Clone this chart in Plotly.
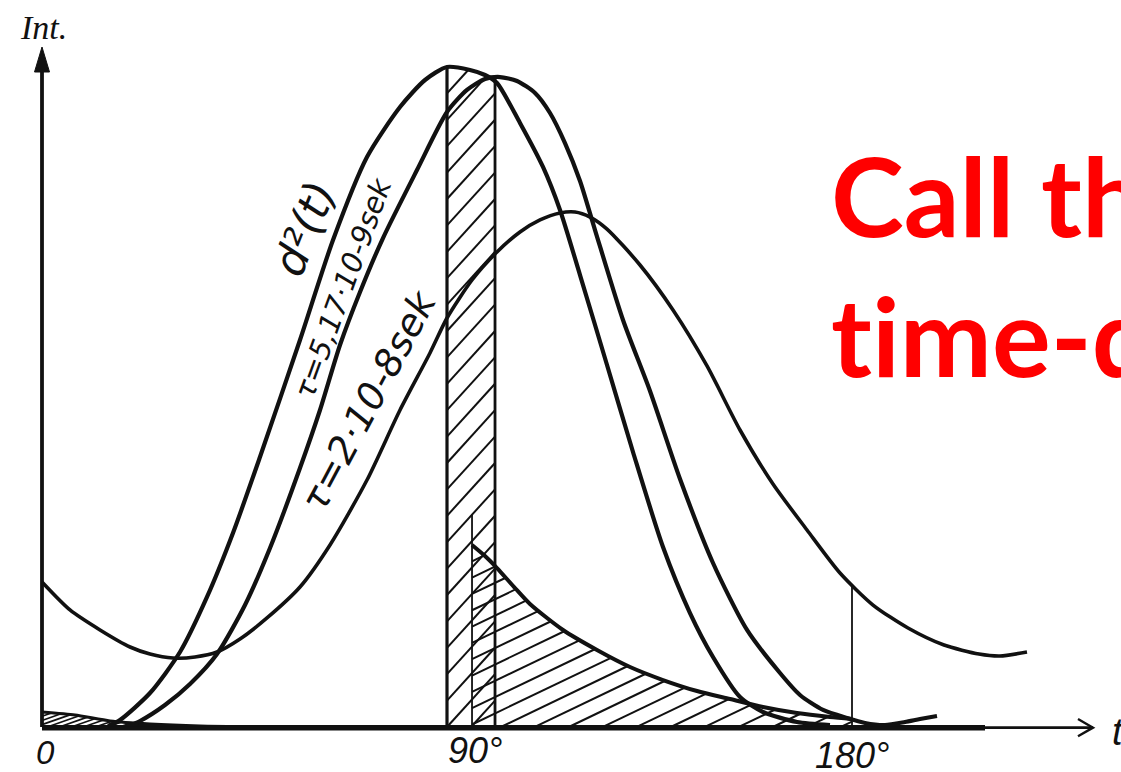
import numpy as np
import plotly.graph_objects as go

# ---- curve data: x in degrees of phase, y in relative intensity (peak of d^2 = 100) ----
d2_deg = [14.67, 17.33, 24.0, 30.67, 36.67, 42.44, 48.44, 57.33, 64.67, 72.22, 79.56, 85.11,
          90.0, 95.11, 98.44, 101.11, 106.22, 111.33, 115.11, 119.56, 125.56, 131.33, 138.0,
          144.0, 149.11, 155.11, 160.22, 167.78, 175.11]
d2_int = [0.15, 1.06, 5.15, 11.36, 19.70, 29.39, 40.91, 58.64, 73.79, 86.36, 93.94, 98.03,
          100.0, 99.55, 98.79, 97.58, 91.52, 84.85, 78.33, 68.48, 54.85, 41.67, 27.27,
          17.27, 10.61, 4.55, 2.27, 0.76, 0.30]

tau517_deg = [19.11, 21.78, 27.33, 32.89, 38.89, 45.11, 50.67, 57.33, 61.78, 66.22, 70.67,
              75.78, 83.33, 90.0, 94.44, 98.44, 101.78, 105.56, 109.56, 112.89, 116.22,
              119.56, 122.89, 129.11, 135.11, 141.78, 149.11, 156.67, 164.0, 168.44, 173.56,
              178.89, 182.89, 187.33, 191.78, 195.11, 198.89]
tau517_int = [0.15, 0.91, 3.33, 6.52, 11.06, 18.48, 27.12, 39.24, 48.03, 57.88, 65.91,
              74.09, 84.39, 93.18, 96.52, 98.18, 98.48, 97.88, 96.06, 93.03, 88.48,
              82.73, 75.30, 61.67, 50.91, 37.58, 24.85, 14.70, 8.18, 4.85, 2.58,
              1.36, 0.61, 0.30, 0.76, 1.21, 1.67]

tau2_deg = [0.0, 6.22, 12.89, 19.56, 24.0, 29.11, 34.0, 38.89, 44.0, 50.0, 57.33, 64.0, 72.22,
            79.56, 86.22, 90.0, 95.56, 101.11, 106.22, 110.67, 115.11, 118.44, 121.78, 125.56,
            132.89, 140.22, 147.78, 155.11, 162.44, 170.0, 177.33, 184.67, 192.44, 200.44,
            208.22, 212.89, 218.89]
tau2_int = [21.97, 17.73, 14.70, 12.12, 11.06, 10.45, 10.61, 11.36, 13.33, 16.52, 21.21, 27.58,
            37.42, 48.03, 56.67, 61.97, 67.73, 71.97, 75.0, 76.82, 77.88, 78.03, 77.27, 75.45,
            70.0, 63.18, 54.70, 45.0, 36.82, 29.85, 23.33, 18.48, 15.0, 12.42,
            11.06, 10.76, 11.36]

decay_deg = [95.56, 98.44, 101.11, 105.11, 108.44, 115.78, 123.33, 130.67, 138.0, 145.56,
             152.89, 160.22, 167.78, 175.11, 180.0]
decay_int = [27.58, 25.91, 24.09, 21.06, 18.64, 14.70, 11.67, 9.09, 7.12, 5.45,
             4.24, 3.03, 2.12, 1.52, 1.21]

sliver_deg = [0.0, 7.33, 15.11, 24.0, 35.11, 52.89]
sliver_int = [2.27, 1.82, 0.91, 0.45, 0.15, 0.0]

gate_start, gate_end = 90.0, 100.67     # hatched gate strip
pulse_mark = 95.56                      # thin marker inside the gate
pulse_mark_top = 32.12
period_end = 180.0

tick_labels = ["0", "90°", "180°"]

# ---- screen geometry (figure fills the whole page) ----
W, H = 1121, 772
X0_PX, PX_PER_DEG = 42.0, 4.5
Y0_PX, PX_PER_UNIT = 727.0, 6.6
x_range = [-X0_PX / PX_PER_DEG, (W - X0_PX) / PX_PER_DEG]
y_range = [(Y0_PX - H) / PX_PER_UNIT, Y0_PX / PX_PER_UNIT]

INK = "#111111"


def hatch(xlo, xhi, top_x, top_y, slope_px, spacing_px, n=3000):
    """Parallel hatch lines (slope given in screen pixels) clipped to 0 <= y <= top(x)."""
    xs = np.linspace(xlo, xhi, n)
    top = np.interp(xs, top_x, top_y)
    k = slope_px * PX_PER_DEG / PX_PER_UNIT
    step = spacing_px / PX_PER_DEG
    hx, hy = [], []
    x0 = xlo - top.max() / k - step
    while x0 < xhi:
        ly = k * (xs - x0)
        idx = np.flatnonzero((ly >= 0) & (ly <= top))
        if idx.size > 1:
            br = np.flatnonzero(np.diff(idx) > 1)
            starts = np.r_[idx[0], idx[br + 1]]
            ends = np.r_[idx[br], idx[-1]]
            for s, e in zip(starts, ends):
                if e > s:
                    hx += [xs[s], xs[e], None]
                    hy += [ly[s], ly[e], None]
        x0 += step
    return hx, hy


fig = go.Figure()

# gate strip: upper envelope of the two narrow curves
gx = np.linspace(gate_start, gate_end, 200)
g_top = np.maximum(np.interp(gx, d2_deg, d2_int), np.interp(gx, tau517_deg, tau517_int))
sx, sy = hatch(gate_start, gate_end, gx, g_top, 1.1, 24)
fig.add_trace(go.Scatter(x=sx, y=sy, mode="lines", line=dict(color=INK, width=2),
                         hoverinfo="skip"))

# hatched area under the decay curve
hx, hy = hatch(pulse_mark, period_end, decay_deg, decay_int, 0.48, 34)
fig.add_trace(go.Scatter(x=hx, y=hy, mode="lines", line=dict(color=INK, width=2),
                         hoverinfo="skip"))

# small hatched sliver at the origin
lx, ly = hatch(0, sliver_deg[-1], sliver_deg, sliver_int, 0.35, 12)
fig.add_trace(go.Scatter(x=lx, y=ly, mode="lines", line=dict(color=INK, width=1.6),
                         hoverinfo="skip"))
fig.add_trace(go.Scatter(x=sliver_deg, y=sliver_int, mode="lines",
                         line=dict(color=INK, width=3, shape="spline", smoothing=0.6),
                         hoverinfo="skip"))


def vline(x, ytop, width):
    fig.add_trace(go.Scatter(x=[x, x], y=[0, ytop], mode="lines",
                             line=dict(color=INK, width=width), hoverinfo="skip"))


# gate edges and markers
vline(gate_start, float(np.interp(gate_start, d2_deg, d2_int)), 3.2)
vline(gate_end, float(np.interp(gate_end, tau517_deg, tau517_int)), 2.8)
vline(pulse_mark, pulse_mark_top, 1.8)
vline(period_end, float(np.interp(period_end, tau2_deg, tau2_int)), 1.8)

# main curves
for xs_, ys_, w in [(d2_deg, d2_int, 4.2), (tau517_deg, tau517_int, 4.2),
                    (tau2_deg, tau2_int, 3.6), (decay_deg, decay_int, 4.0)]:
    fig.add_trace(go.Scatter(x=xs_, y=ys_, mode="lines",
                             line=dict(color=INK, width=w, shape="spline", smoothing=0.7),
                             hoverinfo="skip"))

# axes
tip_y = (Y0_PX - 47) / PX_PER_UNIT
base_y = (Y0_PX - 72) / PX_PER_UNIT
half_w = 7.5 / PX_PER_DEG
tip_x = (1093 - X0_PX) / PX_PER_DEG
barb_dx = 15 / PX_PER_DEG
barb_dy = 8 / PX_PER_UNIT
shapes = [
    dict(type="line", x0=0, y0=0, x1=0, y1=base_y, line=dict(color=INK, width=3.8)),
    dict(type="path", path=f"M {-half_w} {base_y} L 0 {tip_y} L {half_w} {base_y} Z",
         fillcolor=INK, line=dict(color=INK, width=1)),
    dict(type="line", x0=0, y0=-0.1, x1=(985 - X0_PX) / PX_PER_DEG, y1=-0.1,
         line=dict(color=INK, width=5.5)),
    dict(type="line", x0=0, y0=-0.1, x1=tip_x, y1=-0.1, line=dict(color=INK, width=2.8)),
    dict(type="path",
         path=f"M {tip_x - barb_dx} {barb_dy} L {tip_x} -0.1 L {tip_x - barb_dx} {-barb_dy - 0.2}",
         line=dict(color=INK, width=2.4)),
]

ital = dict(color=INK, style="italic")
annotations = [
    dict(text="Int.", x=43 / W, y=1 - 27 / H, font=dict(family="Liberation Serif", size=34, **ital)),
    dict(text=tick_labels[0], x=45 / W, y=1 - 752 / H, font=dict(family="Liberation Sans", size=33, **ital)),
    dict(text=tick_labels[1], x=446 / W, y=1 - 750 / H, xanchor="left",
         font=dict(family="Liberation Sans", size=36, **ital)),
    dict(text=tick_labels[2], x=813 / W, y=1 - 755 / H, xanchor="left",
         font=dict(family="Liberation Sans", size=36, **ital)),
    dict(text="t", x=1110 / W, y=1 - 732 / H, xanchor="left",
         font=dict(family="Liberation Sans", size=38, **ital)),
    dict(text="<b>Call the</b>", x=829 / W, y=1 - 194 / H, xanchor="left",
         font=dict(family="Lato", size=110, color="#FF0000")),
    dict(text="<b>t\u200cime-dependent</b>", x=829 / W, y=1 - 334 / H, xanchor="left",
         font=dict(family="Lato", size=110, color="#FF0000")),
]
for a in annotations:
    a.update(xref="paper", yref="paper", showarrow=False)
    a.setdefault("xanchor", "center")
    a.setdefault("yanchor", "middle")

# labels written along the curves
curve_labels = [
    ("d²(t)", 58.2, 75.6, -68, 44),
    ("τ=5,17·10-9sek", 66.9, 66.5, -70, 29),
    ("τ=2·10-8sek", 72.6, 49.39, -62, 38),
]
for txt, x, y, ang, sz in curve_labels:
    annotations.append(dict(text=txt, x=x, y=y, xref="x", yref="y", textangle=ang,
                            showarrow=False, font=dict(family="DejaVu Sans", size=sz, **ital)))

fig.update_layout(
    width=W, height=H, margin=dict(l=0, r=0, t=0, b=0),
    paper_bgcolor="white", plot_bgcolor="white", showlegend=False,
    xaxis=dict(range=x_range, visible=False, fixedrange=True),
    yaxis=dict(range=y_range, visible=False, fixedrange=True),
    shapes=shapes, annotations=annotations,
)

fig.write_html("out.html")
